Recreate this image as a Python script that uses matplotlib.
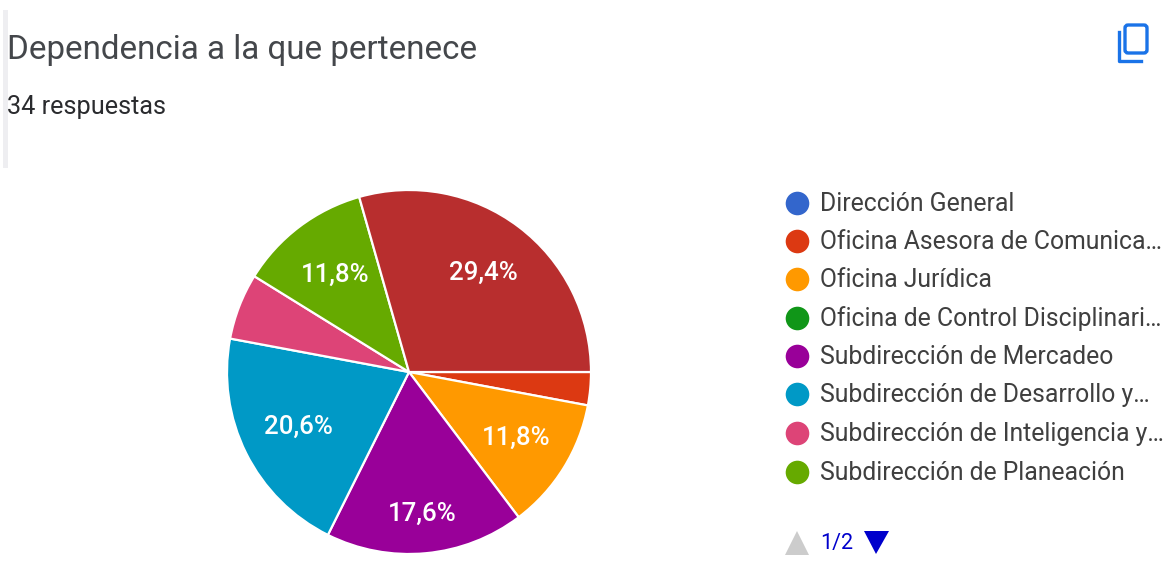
import math
import matplotlib
matplotlib.use('Agg')
import matplotlib.pyplot as plt
from matplotlib.patches import Polygon, Rectangle, FancyBboxPatch
from matplotlib.lines import Line2D

W, H = 1167, 563

title = "Dependencia a la que pertenece"
subtitle = "34 respuestas"

# clockwise from 3 o'clock
slice_counts = [1, 4, 6, 7, 2, 4, 10]
slice_colors = ['#dc3912', '#ff9900', '#990099', '#0099c6', '#dd4477', '#66aa00', '#b82e2e']
slice_labels = ['', '11,8%', '17,6%', '20,6%', '', '11,8%', '29,4%']
label_radius = [0, 0.69, 0.78, 0.68, 0, 0.67, 0.68]

legend_names = [
    "Dirección General",
    "Oficina Asesora de Comunica…",
    "Oficina Jurídica",
    "Oficina de Control Disciplinari…",
    "Subdirección de Mercadeo",
    "Subdirección de Desarrollo y…",
    "Subdirección de Inteligencia y…",
    "Subdirección de Planeación",
]
legend_colors = ['#3366cc', '#dc3912', '#ff9900', '#109618', '#990099', '#0099c6', '#dd4477', '#66aa00']
legend_y = [203, 241, 279, 318, 356, 394, 433, 472]
page_text = "1/2"

plt.rcParams['font.family'] = ['Roboto', 'DejaVu Sans']

fig = plt.figure(figsize=(W / 100, H / 100), dpi=100)

# overlay in pixel coordinates, y going down
bg = fig.add_axes([0, 0, 1, 1])
bg.set_xlim(0, W)
bg.set_ylim(H, 0)
bg.axis('off')

# card edge on the left
bg.add_patch(Rectangle((3, 10), 5, 158, color='#eeeef1', lw=0))

bg.text(7, 50, title, fontsize=23.9, color='#44474b', va='center', ha='left')
bg.text(7, 107, subtitle, fontsize=18.2, color='#2a2b2e', va='center', ha='left')

# copy icon
bg.add_patch(FancyBboxPatch((1125, 25), 22, 28, boxstyle='round,pad=0,rounding_size=3',
                            fc='none', ec='#1a73e8', lw=2.4))
bg.add_line(Line2D([1118.5, 1118.5, 1141], [32, 61, 61], color='#1a73e8', lw=2.4))

# pie
cx, cy, r = 409, 372, 182
pie_ax = fig.add_axes([(cx - r) / W, 1 - (cy + r) / H, 2 * r / W, 2 * r / H])
wedges, _ = pie_ax.pie(slice_counts, colors=slice_colors, startangle=0, counterclock=False,
                       radius=1, wedgeprops={'edgecolor': 'white', 'linewidth': 1.6})
pie_ax.set_xlim(-1, 1)
pie_ax.set_ylim(-1, 1)

total = sum(slice_counts)
angle = 0
for n, lab, lr in zip(slice_counts, slice_labels, label_radius):
    mid = angle - n / total * 180
    angle -= n / total * 360
    if lab:
        pie_ax.text(lr * math.cos(math.radians(mid)), lr * math.sin(math.radians(mid)), lab,
                    color='white', fontsize=18.6, fontweight='medium', ha='center', va='center')

# legend
for name, col, y in zip(legend_names, legend_colors, legend_y):
    bg.plot([797], [y], 'o', ms=17, color=col, mew=0)
    bg.text(820, y + 1, name, fontsize=17.8, color='#3f3f3f', va='center', ha='left')

# pager
bg.add_patch(Polygon([[785, 555], [809, 555], [797, 531]], color='#cccccc', lw=0))
bg.text(820, 544, page_text, fontsize=15.5, color='#0000cc', va='center', ha='left')
bg.add_patch(Polygon([[864, 531], [889, 531], [876, 554]], color='#0000cc', lw=0))

fig.savefig('out.png', dpi=100)
